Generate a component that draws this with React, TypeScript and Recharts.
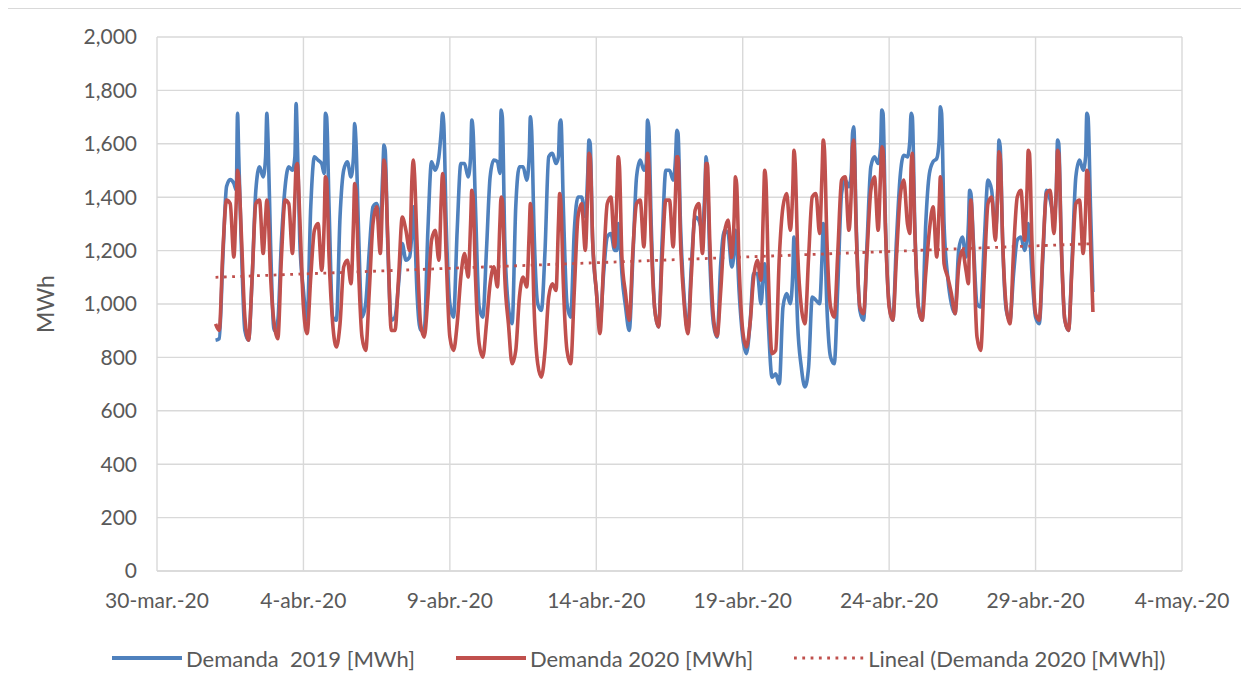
import React from 'react';
import { LineChart, Line, XAxis, YAxis, CartesianGrid, Label } from 'recharts';

// ---- Axis categories / ticks ----
const xTickDays = [0, 5, 10, 15, 20, 25, 30, 35]; // days since 30-mar-20
const xTickLabels = ['30-mar.-20', '4-abr.-20', '9-abr.-20', '14-abr.-20', '19-abr.-20', '24-abr.-20', '29-abr.-20', '4-may.-20'];
const yTicks = [0, 200, 400, 600, 800, 1000, 1200, 1400, 1600, 1800, 2000];

// first data day (1-abr) offset from 30-mar, and hours sampled in each day
const firstDay = 2;
const sampleHours = [0, 3, 6, 9, 12, 15, 17, 18, 19, 21];

// ---- Demanda 2019 [MWh] — one row per day (1-abr .. 30-abr) ----
const demanda2019: number[][] = [
  [864, 870, 1176, 1440, 1466, 1451, 1426, 1714, 1551, 1239],
  [901, 864, 1101, 1426, 1514, 1476, 1551, 1714, 1614, 1239],
  [901, 939, 1239, 1439, 1514, 1501, 1551, 1751, 1614, 1239],
  [1051, 939, 1364, 1551, 1539, 1526, 1489, 1714, 1701, 1364],
  [951, 939, 1326, 1501, 1533, 1476, 1551, 1676, 1614, 1301],
  [951, 1001, 1201, 1364, 1376, 1301, 1489, 1595, 1576, 1239],
  [939, 951, 1076, 1226, 1164, 1176, 1276, 1364, 1301, 1051],
  [901, 901, 1276, 1533, 1501, 1551, 1651, 1714, 1676, 1301],
  [1001, 951, 1276, 1526, 1526, 1476, 1551, 1689, 1651, 1364],
  [989, 951, 1201, 1476, 1539, 1533, 1489, 1726, 1701, 1239],
  [989, 926, 1364, 1514, 1514, 1464, 1551, 1701, 1651, 1276],
  [1001, 976, 1201, 1551, 1564, 1526, 1551, 1676, 1689, 1364],
  [1001, 951, 1276, 1401, 1401, 1326, 1489, 1614, 1601, 1239],
  [1051, 926, 1114, 1251, 1264, 1201, 1201, 1301, 1276, 1114],
  [989, 901, 1176, 1476, 1539, 1501, 1526, 1689, 1664, 1301],
  [976, 914, 1239, 1501, 1501, 1464, 1551, 1651, 1639, 1301],
  [1026, 901, 1151, 1326, 1314, 1276, 1426, 1551, 1489, 1176],
  [926, 876, 1151, 1276, 1264, 1139, 1201, 1276, 1239, 1051],
  [876, 814, 926, 1114, 1114, 1001, 1114, 1151, 1114, 926],
  [726, 739, 701, 989, 1039, 1001, 1114, 1251, 1201, 926],
  [764, 689, 764, 1026, 1014, 1001, 1176, 1301, 1264, 989],
  [801, 776, 1076, 1414, 1464, 1439, 1489, 1639, 1664, 1301],
  [976, 939, 1239, 1514, 1551, 1526, 1589, 1726, 1714, 1301],
  [1001, 939, 1239, 1476, 1557, 1551, 1614, 1714, 1701, 1301],
  [989, 939, 1301, 1489, 1533, 1545, 1614, 1739, 1714, 1301],
  [1101, 1001, 964, 1201, 1251, 1176, 1301, 1426, 1414, 1239],
  [1001, 989, 1239, 1464, 1426, 1276, 1426, 1614, 1589, 1239],
  [976, 939, 1114, 1239, 1251, 1201, 1251, 1301, 1276, 1114],
  [951, 926, 1176, 1426, 1389, 1326, 1426, 1614, 1601, 1239],
  [939, 901, 1176, 1476, 1539, 1501, 1551, 1714, 1701, 1364],
];

// ---- Demanda 2020 [MWh] — one row per day (1-abr .. 30-abr) ----
const demanda2020: number[][] = [
  [926, 901, 1201, 1389, 1376, 1176, 1389, 1501, 1476, 1276],
  [951, 864, 1101, 1376, 1389, 1189, 1326, 1389, 1351, 1114],
  [926, 870, 1176, 1389, 1376, 1189, 1401, 1514, 1526, 1326],
  [989, 889, 1101, 1276, 1301, 1126, 1301, 1476, 1464, 1176],
  [926, 839, 926, 1139, 1164, 1076, 1301, 1451, 1426, 1151],
  [876, 826, 1051, 1301, 1364, 1189, 1426, 1539, 1514, 1264],
  [901, 901, 1101, 1326, 1276, 1201, 1476, 1539, 1489, 1239],
  [926, 876, 1026, 1239, 1276, 1164, 1401, 1489, 1451, 1176],
  [876, 826, 926, 1101, 1189, 1101, 1301, 1426, 1401, 1101],
  [851, 801, 926, 1076, 1139, 1064, 1301, 1401, 1389, 1101],
  [926, 776, 826, 1026, 1101, 1064, 1264, 1376, 1326, 989],
  [776, 726, 826, 1026, 1076, 1051, 1301, 1414, 1376, 1076],
  [826, 776, 1051, 1326, 1376, 1201, 1426, 1564, 1551, 1239],
  [1051, 889, 1151, 1376, 1401, 1214, 1426, 1551, 1514, 1176],
  [1039, 939, 1201, 1376, 1389, 1214, 1426, 1564, 1526, 1239],
  [976, 914, 1176, 1389, 1389, 1214, 1426, 1551, 1551, 1239],
  [1001, 889, 1114, 1351, 1376, 1189, 1389, 1526, 1526, 1239],
  [951, 880, 1051, 1264, 1314, 1176, 1326, 1476, 1451, 1151],
  [901, 839, 926, 1101, 1164, 1089, 1364, 1501, 1464, 1114],
  [814, 826, 1176, 1364, 1414, 1276, 1426, 1576, 1526, 1201],
  [989, 926, 1176, 1401, 1414, 1264, 1489, 1614, 1576, 1239],
  [989, 951, 1201, 1464, 1476, 1276, 1426, 1589, 1614, 1276],
  [989, 964, 1201, 1426, 1476, 1276, 1489, 1589, 1576, 1276],
  [989, 939, 1176, 1401, 1464, 1301, 1264, 1514, 1564, 1276],
  [989, 939, 1114, 1276, 1364, 1176, 1364, 1476, 1426, 1151],
  [1101, 1039, 964, 1139, 1201, 1126, 1076, 1301, 1389, 1214],
  [876, 826, 1114, 1376, 1401, 1239, 1426, 1570, 1551, 1239],
  [989, 926, 1201, 1401, 1426, 1239, 1426, 1576, 1564, 1239],
  [964, 939, 1201, 1414, 1426, 1264, 1426, 1576, 1564, 1239],
  [939, 901, 1151, 1376, 1389, 1189, 1351, 1501, 1489, 1239],
];

// last hourly reading (30-abr 23:00)
const lastHour = 23;
const demanda2019Last = 1045;
const demanda2020Last = 970;

// linear trend of Demanda 2020 (start / end values)
const trendStart = 1100;
const trendEnd = 1226;

type Row = { t: number; d2019: number; d2020: number; trend?: number };

const data: Row[] = [];
demanda2019.forEach((day, d) => {
  day.forEach((v, i) => {
    data.push({ t: firstDay + d + sampleHours[i] / 24, d2019: v, d2020: demanda2020[d][i] });
  });
});
data.push({ t: firstDay + demanda2019.length - 1 + lastHour / 24, d2019: demanda2019Last, d2020: demanda2020Last });
data[0].trend = trendStart;
data[data.length - 1].trend = trendEnd;

const BLUE = '#4F81BD';
const RED = '#C0504D';
const TEXT = '#595959';
const GRID = '#D9D9D9';
const FONT = 'Lato, "Open Sans", sans-serif';

const fmtY = (v: number) => v.toLocaleString('en-US');
const fmtX = (v: number) => {
  const i = xTickDays.indexOf(v);
  return i >= 0 ? xTickLabels[i] : '';
};

const legendItems = [
  { label: 'Demanda  2019 [MWh]', color: BLUE, dotted: false },
  { label: 'Demanda 2020 [MWh]', color: RED, dotted: false },
  { label: 'Lineal (Demanda 2020 [MWh])', color: RED, dotted: true },
];

export default function App() {
  return (
    <div
      style={{
        position: 'relative',
        width: 1242,
        height: 671,
        marginLeft: -1,
        borderTop: `1px solid ${GRID}`,
        borderLeft: `1px solid ${GRID}`,
        boxSizing: 'border-box',
        background: '#fff',
        fontFamily: FONT,
        overflow: 'hidden',
      }}
    >
      <LineChart
        width={1241}
        height={670}
        data={data}
        margin={{ top: 28, right: 67, left: 0, bottom: 48 }}
      >
        <CartesianGrid stroke={GRID} strokeWidth={1.4} />
        <XAxis
          dataKey="t"
          type="number"
          domain={[0, 35]}
          ticks={xTickDays}
          tickFormatter={fmtX}
          interval={0}
          height={60}
          tickSize={0}
          tickMargin={22}
          axisLine={{ stroke: GRID, strokeWidth: 1.4 }}
          tick={{ fill: TEXT, fontSize: 21, fontFamily: FONT }}
        />
        <YAxis
          type="number"
          domain={[0, 2000]}
          ticks={yTicks}
          tickFormatter={fmtY}
          interval={0}
          width={149}
          tickSize={0}
          tickMargin={20}
          axisLine={false}
          tick={{ fill: TEXT, fontSize: 21, fontFamily: FONT }}
        >
          <Label
            value="MWh"
            angle={-90}
            position="insideLeft"
            offset={38}
            style={{ fill: TEXT, fontSize: 23, fontFamily: FONT, textAnchor: 'middle' }}
          />
        </YAxis>
        <Line
          type="monotone"
          dataKey="d2019"
          stroke={BLUE}
          strokeWidth={3.6}
          dot={false}
          activeDot={false}
          isAnimationActive={false}
        />
        <Line
          type="monotone"
          dataKey="d2020"
          stroke={RED}
          strokeWidth={3.6}
          dot={false}
          activeDot={false}
          isAnimationActive={false}
        />
        <Line
          type="linear"
          dataKey="trend"
          stroke={RED}
          strokeWidth={2.8}
          strokeDasharray="2.8 5.5"
          connectNulls
          dot={false}
          activeDot={false}
          isAnimationActive={false}
        />
      </LineChart>
      <div
        style={{
          position: 'absolute',
          left: 104,
          top: 637,
          display: 'flex',
          alignItems: 'center',
          height: 24,
          whiteSpace: 'pre',
        }}
      >
        {legendItems.map((it, i) => (
          <div key={i} style={{ display: 'flex', alignItems: 'center', marginRight: i < legendItems.length - 1 ? 41 : 0 }}>
            <svg width={70} height={8} style={{ marginRight: 4 }}>
              <line
                x1={0}
                y1={4}
                x2={70}
                y2={4}
                stroke={it.color}
                strokeWidth={it.dotted ? 2.8 : 3.8}
                strokeDasharray={it.dotted ? '2.8 5.5' : undefined}
              />
            </svg>
            <span style={{ color: TEXT, fontSize: 22, fontFamily: FONT }}>{it.label}</span>
          </div>
        ))}
      </div>
    </div>
  );
}
